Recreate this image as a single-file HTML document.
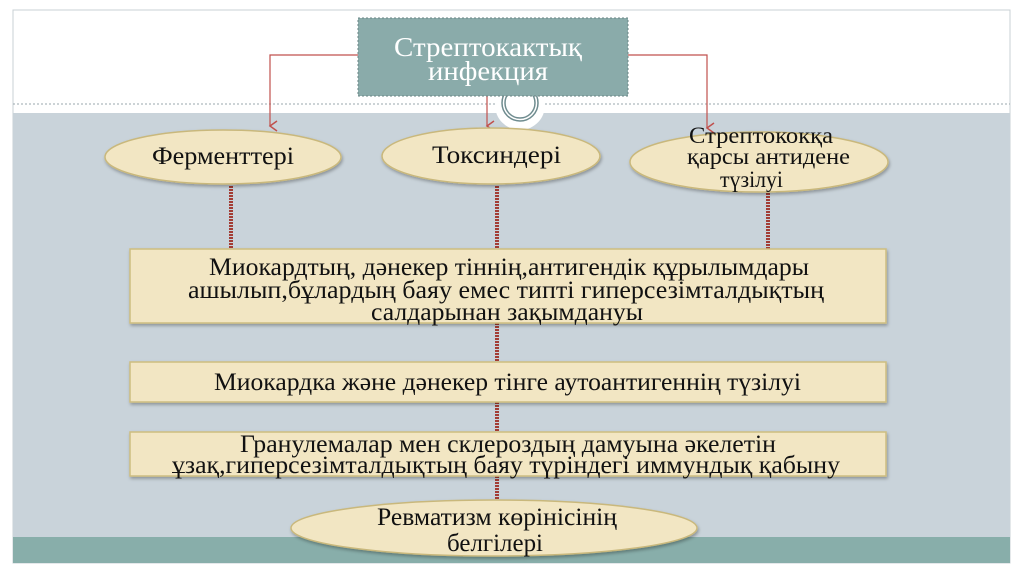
<!DOCTYPE html>
<html><head><meta charset="utf-8"><style>
html,body{margin:0;padding:0;background:#fff;}
svg{display:block;}
text{font-family:"Liberation Serif",serif;}
</style></head><body>
<svg width="1024" height="574" viewBox="0 0 1024 574" xmlns="http://www.w3.org/2000/svg">
<defs>
<marker id="ar" markerWidth="12" markerHeight="12" refX="6" refY="10" orient="auto" markerUnits="userSpaceOnUse">
<path d="M1,3 L6,10 L11,3" fill="none" stroke="#c0504d" stroke-width="1.5"/>
</marker>
<filter id="sh" x="-5%" y="-10%" width="110%" height="130%"><feDropShadow dx="1" dy="2" stdDeviation="1.5" flood-color="#000" flood-opacity="0.3"/></filter>
</defs>
<rect x="13" y="10" width="997" height="553" fill="#fff" stroke="#c8d0d4" stroke-width="1"/>
<rect x="13" y="113" width="997" height="424" fill="#c9d3da"/>
<rect x="13" y="537" width="997" height="26" fill="#88aeaa"/>
<line x1="13" y1="104" x2="1010" y2="104" stroke="#9aa7ad" stroke-width="1" stroke-dasharray="2,2"/>
<circle cx="520" cy="105" r="25" fill="#fff"/>
<circle cx="520" cy="103" r="18" fill="none" stroke="#6f8c8f" stroke-width="1.5"/>
<circle cx="520" cy="103" r="15" fill="none" stroke="#6f8c8f" stroke-width="1.5"/>
<polyline points="358,55 270,55 270,126" fill="none" stroke="#c0504d" stroke-width="1.2" marker-end="url(#ar)"/>
<polyline points="628,55 707,55 707,128" fill="none" stroke="#c0504d" stroke-width="1.2" marker-end="url(#ar)"/>
<line x1="487" y1="96" x2="487" y2="126" stroke="#c0504d" stroke-width="1.2" marker-end="url(#ar)"/>
<g stroke="#a33d35" stroke-width="4" stroke-dasharray="2,1">
<line x1="231" y1="186" x2="231" y2="250"/>
<line x1="497" y1="186" x2="497" y2="250"/>
<line x1="768" y1="190" x2="768" y2="250"/>
<line x1="497" y1="323" x2="497" y2="362"/>
<line x1="497" y1="402" x2="497" y2="432"/>
<line x1="497" y1="476" x2="497" y2="500"/>
</g>
<rect x="358" y="18" width="270" height="78" fill="#8aabaa" stroke="#6a8584" stroke-dasharray="2,2"/>
<text x="394" y="56" font-size="27" fill="#fff" textLength="188" lengthAdjust="spacingAndGlyphs">Стрептокактық</text>
<text x="428" y="80" font-size="27" fill="#fff" textLength="120" lengthAdjust="spacingAndGlyphs">инфекция</text>
<g fill="#f2e6c3" stroke="#c9b87c" stroke-width="1.5" filter="url(#sh)">
<ellipse cx="223" cy="157" rx="118" ry="27"/>
<ellipse cx="491" cy="156" rx="109" ry="28"/>
<ellipse cx="759" cy="162" rx="129" ry="30"/>
</g>
<g font-size="25" fill="#111">
<text x="152" y="164" textLength="142" lengthAdjust="spacingAndGlyphs">Ферменттері</text>
<text x="432" y="163" textLength="129" lengthAdjust="spacingAndGlyphs">Токсиндері</text>
</g>
<g font-size="23" fill="#111">
<text x="689" y="143" textLength="144" lengthAdjust="spacingAndGlyphs">Стрептококқа</text>
<text x="687" y="164" textLength="163" lengthAdjust="spacingAndGlyphs">қарсы антидене</text>
<text x="720" y="187" textLength="63" lengthAdjust="spacingAndGlyphs">түзілуі</text>
</g>
<g fill="#f2e6c3" stroke="#cdbd80" stroke-width="1.5" filter="url(#sh)">
<rect x="130" y="249" width="756" height="74"/>
<rect x="130" y="362" width="756" height="40"/>
<rect x="130" y="432" width="756" height="44"/>
</g>
<g font-size="25" fill="#111">
<text x="209" y="275" textLength="600" lengthAdjust="spacingAndGlyphs">Миокардтың, дәнекер тіннің,антигендік құрылымдары</text>
<text x="188" y="298" textLength="636" lengthAdjust="spacingAndGlyphs">ашылып,бұлардың баяу емес типті гиперсезімталдықтың</text>
<text x="371" y="320" textLength="272" lengthAdjust="spacingAndGlyphs">салдарынан зақымдануы</text>
<text x="214" y="390" textLength="587" lengthAdjust="spacingAndGlyphs">Миокардка және дәнекер тінге аутоантигеннің түзілуі</text>
<text x="240" y="452" textLength="536" lengthAdjust="spacingAndGlyphs">Гранулемалар мен склероздың дамуына әкелетін</text>
<text x="172" y="473" textLength="668" lengthAdjust="spacingAndGlyphs">ұзақ,гиперсезімталдықтың баяу түріндегі иммундық қабыну</text>
</g>
<ellipse cx="494" cy="528" rx="203" ry="28" fill="#f2e6c3" stroke="#c9b87c" stroke-width="1.5" filter="url(#sh)"/>
<text x="377" y="525" font-size="25" fill="#111" textLength="240" lengthAdjust="spacingAndGlyphs">Ревматизм көрінісінің</text>
<text x="447" y="551" font-size="25" fill="#111" textLength="96" lengthAdjust="spacingAndGlyphs">белгілері</text>
</svg>
</body></html>
